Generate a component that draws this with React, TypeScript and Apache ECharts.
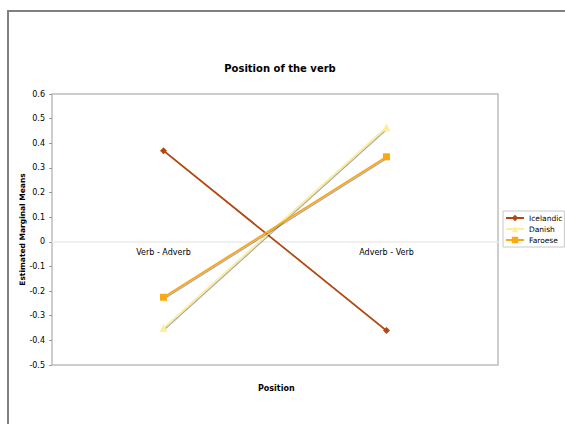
import React, { useEffect, useRef } from "react";
import * as echarts from "echarts";

const categories = ["Verb - Adverb", "Adverb - Verb"];
const icelandic = [0.37, -0.36];
const danish = [-0.35, 0.465];
const faroese = [-0.225, 0.345];
const yMin = -0.5;
const yMax = 0.6;
const yInterval = 0.1;

const FONT = "DejaVu Sans";

const GRID_TOP = 94;
const GRID_BOTTOM = 59;
const PLOT_H = 424 - GRID_TOP - GRID_BOTTOM;
const ZERO_OFFSET = (PLOT_H * (0 - yMin)) / (yMax - yMin);

export default function App() {
  const ref = useRef<HTMLDivElement>(null);
  useEffect(() => {
    if (!ref.current) return;
    const chart = echarts.init(ref.current, undefined, { renderer: "svg" });
    const shadow = {
      shadowColor: "rgba(0,0,0,0.35)",
      shadowBlur: 1,
      shadowOffsetX: 1,
      shadowOffsetY: 1,
    };
    chart.setOption({
      animation: false,
      backgroundColor: "#ffffff",
      textStyle: { fontFamily: FONT },
      title: {
        text: "Position of the verb",
        left: 275,
        top: 58,
        textAlign: "center",
        textStyle: { fontFamily: FONT, fontSize: 10, fontWeight: "bold", color: "#000" },
      },
      graphic: [
        {
          type: "rect",
          shape: { x: 8, y: 11, width: 700, height: 600 },
          style: { fill: "none", stroke: "#808080", lineWidth: 2 },
          silent: true,
        },
        {
          type: "text",
          left: 258,
          top: 384,
          style: {
            text: "Position",
            fontFamily: FONT,
            fontSize: 8,
            fontWeight: "bold",
            fill: "#000",
          },
        },
      ],
      legend: {
        orient: "vertical",
        left: 503,
        top: 211,
        padding: [3, 2, 3, 2],
        itemGap: 3,
        itemWidth: 18,
        itemHeight: 8,
        backgroundColor: "#ffffff",
        borderColor: "#c8c8c8",
        borderWidth: 1,
        textStyle: { fontFamily: FONT, fontSize: 7.5, color: "#000" },
        data: ["Icelandic", "Danish", "Faroese"],
      },
      grid: {
        left: 52,
        right: 67,
        top: GRID_TOP,
        bottom: GRID_BOTTOM,
        show: true,
        borderColor: "#bdbdbd",
        borderWidth: 1.5,
        backgroundColor: "#ffffff",
      },
      xAxis: {
        type: "category",
        data: categories,
        boundaryGap: true,
        offset: -ZERO_OFFSET,
        axisLine: { onZero: false, lineStyle: { color: "#ebebeb", width: 1.5 } },
        axisTick: { show: false },
        axisLabel: { fontFamily: FONT, fontSize: 8, color: "#000", margin: 7 },
        splitLine: { show: false },
      },
      yAxis: {
        type: "value",
        min: yMin,
        max: yMax,
        interval: yInterval,
        name: "Estimated Marginal Means",
        nameLocation: "middle",
        nameRotate: 90,
        nameGap: 26,
        nameMoveOverlap: false,
        nameTextStyle: { fontFamily: FONT, fontSize: 7.5, fontWeight: "bold", color: "#000" },
        axisLine: { show: false },
        axisTick: { show: true, length: 3, lineStyle: { color: "#999" } },
        axisLabel: {
          fontFamily: FONT,
          fontSize: 8,
          color: "#000",
          margin: 7,
          formatter: (v: number) => {
            const r = Math.round(v * 10) / 10;
            return r === 0 ? "0" : String(r);
          },
        },
        splitLine: { show: false },
      },
      series: [
        {
          name: "Icelandic",
          type: "line",
          data: icelandic,
          symbol: "diamond",
          symbolSize: 7,
          color: "#b5460e",
          lineStyle: { width: 1.6, color: "#b5460e", ...shadow },
          itemStyle: { color: "#b5460e" },
        },
        {
          name: "Danish",
          type: "line",
          data: danish,
          symbol: "triangle",
          symbolSize: 8,
          color: "#fcee9a",
          lineStyle: { width: 1.8, color: "#fcee9a", ...shadow },
          itemStyle: { color: "#fcee9a" },
        },
        {
          name: "Faroese",
          type: "line",
          data: faroese,
          symbol: "rect",
          symbolSize: 7,
          color: "#fba815",
          lineStyle: { width: 1.8, color: "#fba815", ...shadow },
          itemStyle: { color: "#fba815" },
        },
      ],
    });
    return () => chart.dispose();
  }, []);
  return (
    <div
      ref={ref}
      style={{ position: "absolute", left: 0, top: 0, width: 565, height: 424 }}
    />
  );
}
